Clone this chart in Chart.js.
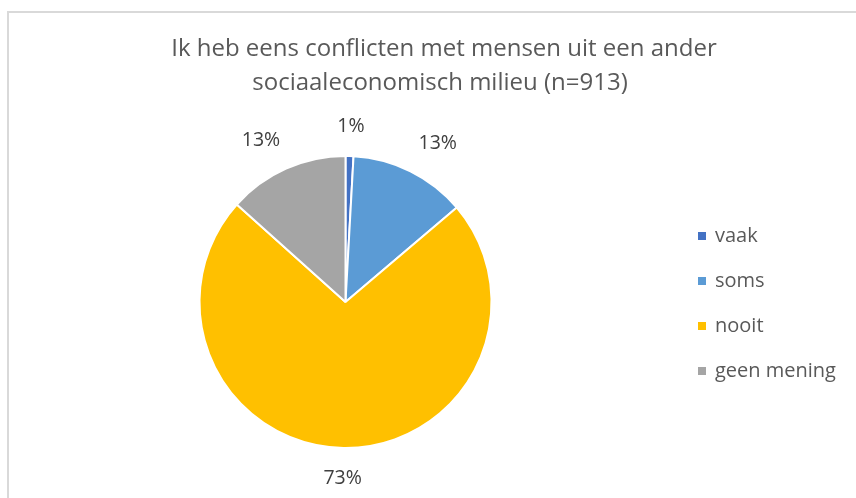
<!DOCTYPE html>
<html>
<head>
<meta charset="utf-8">
<script src="https://cdn.jsdelivr.net/npm/chart.js@4/dist/chart.umd.min.js"></script>
<style>
  html, body { margin: 0; padding: 0; background: #fff; overflow: hidden; }
  #frame { position: absolute; left: 7px; top: 11px; width: 900px; height: 520px;
           border-left: 2px solid #d9d9d9; border-top: 2px solid #d9d9d9; }
  #wrap { position: absolute; left: 0; top: 0; width: 856px; height: 498px; }
</style>
</head>
<body>
<div id="frame"></div>
<div id="wrap"><canvas id="c" width="856" height="498"></canvas></div>
<script>
"use strict";
const titleLines = ["Ik heb eens conflicten met mensen uit een ander", "sociaaleconomisch milieu (n=913)"];
const categories = ["vaak", "soms", "nooit", "geen mening"];
const counts = [8, 118, 665, 122];
const colors = ["#4472C4", "#5B9BD5", "#FFC000", "#A5A5A5"];

const FONT = "'Open Sans', 'Liberation Sans', sans-serif";
const CX = 345.5, CY = 302, SIDE = 294;

const decor = {
  id: "decor",
  afterDraw(chart) {
    const ctx = chart.ctx;
    ctx.save();
    // title
    ctx.fillStyle = "#595959";
    ctx.font = "24px " + FONT;
    ctx.textAlign = "center";
    ctx.textBaseline = "middle";
    ctx.fillText(titleLines[0], 444, 49);
    ctx.fillText(titleLines[1], 440, 83);

    // percentage labels outside the slices
    const total = counts.reduce((a, b) => a + b, 0);
    const meta = chart.getDatasetMeta(0);
    ctx.font = "19.5px " + FONT;
    ctx.fillStyle = "#404040";
    meta.data.forEach((arc, i) => {
      const p = arc.getProps(["x", "y", "startAngle", "endAngle", "outerRadius"], true);
      const mid = (p.startAngle + p.endAngle) / 2;
      const r = p.outerRadius + 19;
      const ax = p.x + Math.cos(mid) * r;
      const ay = p.y + Math.sin(mid) * r;
      const txt = Math.round(counts[i] / total * 100) + "%";
      const w = ctx.measureText(txt).width, h = 22;
      const kx = Math.max(-1, Math.min(1, Math.cos(mid) * 2.2));
      const ky = Math.max(-1, Math.min(1, Math.sin(mid) * 2.2));
      ctx.fillText(txt, ax + kx * w / 2, ay + ky * h / 2);
    });

    // legend
    ctx.textAlign = "left";
    ctx.font = "20px " + FONT;
    categories.forEach((name, i) => {
      const y = 236 + i * 45;
      ctx.fillStyle = colors[i];
      ctx.fillRect(698, y - 4, 8, 8);
      ctx.fillStyle = "#595959";
      ctx.fillText(name, 715, y);
    });
    ctx.restore();
  }
};

new Chart(document.getElementById("c").getContext("2d"), {
  type: "pie",
  data: {
    labels: categories,
    datasets: [{
      data: counts,
      backgroundColor: colors,
      borderColor: "#ffffff",
      borderWidth: 2,
      hoverOffset: 0
    }]
  },
  options: {
    responsive: false,
    animation: false,
    layout: {
      padding: {
        left: CX - SIDE / 2,
        right: 856 - CX - SIDE / 2,
        top: CY - SIDE / 2,
        bottom: 498 - CY - SIDE / 2
      }
    },
    plugins: {
      legend: { display: false },
      tooltip: { enabled: false },
      title: { display: false }
    }
  },
  plugins: [decor]
});
</script>
</body>
</html>
